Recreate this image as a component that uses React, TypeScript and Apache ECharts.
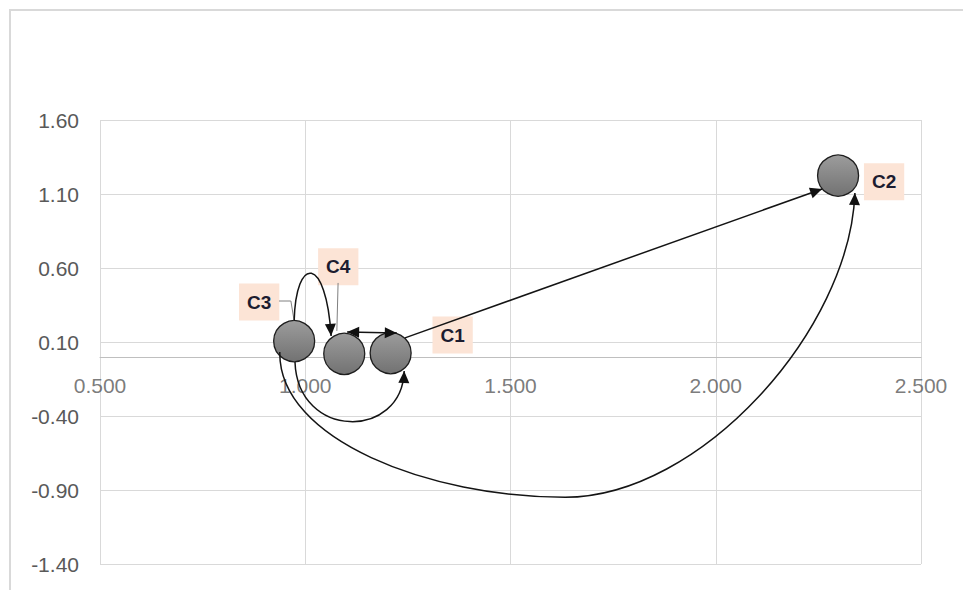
import React, { useEffect, useRef } from "react";
import * as echarts from "echarts";

// ---- data ----
const NODE_NAMES = ["C1", "C2", "C3", "C4"];
const NODE_X = [1.208, 2.298, 0.973, 1.095];
const NODE_Y = [0.025, 1.224, 0.106, 0.02];

const X_MIN = 0.5;
const X_MAX = 2.5;
const X_STEP = 0.5;
const X_TICKS = [0.5, 1.0, 1.5, 2.0, 2.5];
const Y_TICKS = [-1.4, -0.9, -0.4, 0.1, 0.6, 1.1, 1.6];

// arrows (data coordinates): straight = [start, end]; curved = start + cubic triples
const ARROW_C1_C2 = [[1.243, 0.128], [2.259, 1.134]];
const ARROW_C4_C1 = [[1.102, 0.168], [1.223, 0.161]];
const ARROW_C3_C4 = [[0.973, 0.242], [0.977, 0.688], [1.051, 0.688], [1.063, 0.141]];
const ARROW_C3_C1 = [[0.975, -0.035], [0.982, -0.562], [1.236, -0.562], [1.241, -0.096]];
const ARROW_C3_C2 = [
  [0.938, 0.032],
  [0.934, -0.562], [1.304, -0.949], [1.633, -0.949],
  [1.962, -0.949], [2.327, 0.181], [2.339, 1.107],
];
const LEADER_C3 = [[0.936, 0.377], [0.965, 0.377], [0.973, 0.242]];
const LEADER_C4 = [[1.08, 0.499], [1.077, 0.175]];

type Shape = { pts: number[][]; kind: "line" | "curve" | "leader"; heads: number };
const SHAPES: Shape[] = [
  { pts: LEADER_C3, kind: "leader", heads: 0 },
  { pts: LEADER_C4, kind: "leader", heads: 0 },
  { pts: ARROW_C1_C2, kind: "line", heads: 1 },
  { pts: ARROW_C4_C1, kind: "line", heads: 2 },
  { pts: ARROW_C3_C4, kind: "curve", heads: 1 },
  { pts: ARROW_C3_C1, kind: "curve", heads: 1 },
  { pts: ARROW_C3_C2, kind: "curve", heads: 1 },
];

// label offsets (styling)
const LABEL_OFFSETS: Record<string, number[]> = {
  C1: [62, -18],
  C2: [46, 6],
  C3: [-35, -39],
  C4: [-6, -87],
};

function head(tip: number[], from: number[], L = 12, W = 11) {
  const dx = tip[0] - from[0];
  const dy = tip[1] - from[1];
  const len = Math.hypot(dx, dy) || 1;
  const ux = dx / len, uy = dy / len;
  const nx = -uy, ny = ux;
  const bx = tip[0] - ux * L, by = tip[1] - uy * L;
  return {
    type: "polygon",
    shape: { points: [tip, [bx + nx * W / 2, by + ny * W / 2], [bx - nx * W / 2, by - ny * W / 2]] },
    style: { fill: "#111" },
  };
}

export default function App() {
  const ref = useRef<HTMLDivElement>(null);
  useEffect(() => {
    if (!ref.current) return;
    const chart = echarts.init(ref.current, null, { renderer: "svg" });
    const font = "'Liberation Sans', Arial, sans-serif";
    const option: any = {
      animation: false,
      backgroundColor: "#ffffff",
      grid: { left: 100, top: 120, width: 821, height: 444, outerBoundsMode: "none", containLabel: false },
      graphic: [
        {
          type: "rect",
          shape: { x: 10, y: 10, width: 1000, height: 1000 },
          style: { fill: "none", stroke: "#d9d9d9", lineWidth: 2 },
          silent: true,
        },
      ],
      xAxis: {
        type: "value",
        min: X_MIN,
        max: X_MAX,
        interval: X_STEP,
        axisLine: { show: true, onZero: true, lineStyle: { color: "#bfbfbf", width: 1 } },
        axisTick: { show: false },
        axisLabel: { show: false },
        splitLine: { show: true, lineStyle: { color: "#d9d9d9", width: 1 } },
      },
      yAxis: {
        type: "value",
        min: Y_TICKS[0],
        max: Y_TICKS[Y_TICKS.length - 1],
        axisLine: { show: false },
        axisTick: { show: false, customValues: Y_TICKS },
        axisLabel: {
          customValues: Y_TICKS,
          margin: 21,
          fontSize: 21,
          fontFamily: font,
          color: "#595959",
          formatter: (v: number) => v.toFixed(2),
        },
        splitLine: { show: true, lineStyle: { color: "#d9d9d9", width: 1 } },
      },
      series: [
        {
          // x tick labels sitting on the horizontal axis (y = 0)
          type: "scatter",
          z: 1,
          symbolSize: 0,
          silent: true,
          label: {
            show: true,
            position: "bottom",
            distance: 18,
            fontSize: 21,
            fontFamily: font,
            color: "#595959",
            formatter: (p: any) => p.value[0].toFixed(3),
          },
          emphasis: { disabled: true },
          data: X_TICKS.map((x) => [x, 0]),
        },
        {
          type: "scatter",
          z: 2,
          symbol: "circle",
          symbolSize: 41,
          itemStyle: {
            color: new echarts.graphic.LinearGradient(0, 0, 0, 1, [
              { offset: 0, color: "#9c9c9c" },
              { offset: 1, color: "#727272" },
            ]),
            borderColor: "#1e1e1e",
            borderWidth: 1.3,
            opacity: 1,
          },
          label: {
            show: true,
            position: "inside",
            formatter: "{b}",
            fontFamily: font,
            fontWeight: "bold",
            fontSize: 19,
            lineHeight: 19,
            color: "#1c1c30",
            backgroundColor: "#fce4d6",
            padding: [9, 8, 9, 8],
          },
          emphasis: { disabled: true },
          data: NODE_NAMES.map((n, i) => ({
            name: n,
            value: [NODE_X[i], NODE_Y[i]],
            label: { offset: LABEL_OFFSETS[n] },
          })),
        },
        {
          type: "custom",
          z: 5,
          clip: false,
          silent: true,
          data: SHAPES.map((s) => s.pts[0]),
          renderItem: (params: any, api: any) => {
            const s = SHAPES[params.dataIndex];
            const p = s.pts.map((pt) => api.coord(pt));
            let d = `M${p[0][0]},${p[0][1]}`;
            if (s.kind === "curve") {
              for (let k = 1; k + 2 < p.length; k += 3) {
                d += ` C${p[k][0]},${p[k][1]} ${p[k + 1][0]},${p[k + 1][1]} ${p[k + 2][0]},${p[k + 2][1]}`;
              }
            } else {
              for (let k = 1; k < p.length; k++) d += ` L${p[k][0]},${p[k][1]}`;
            }
            const children: any[] = [
              {
                type: "path",
                shape: { pathData: d },
                style: {
                  fill: "none",
                  stroke: s.kind === "leader" ? "#808080" : "#141414",
                  lineWidth: s.kind === "leader" ? 1 : 1.5,
                },
              },
            ];
            const n = p.length;
            if (s.heads >= 1) children.push(head(p[n - 1], p[n - 2]));
            if (s.heads >= 2) children.push(head(p[0], p[1]));
            return { type: "group", children };
          },
        },
      ],
    };
    chart.setOption(option);
    return () => chart.dispose();
  }, []);
  return (
    <div
      ref={ref}
      style={{ position: "absolute", left: 0, top: 0, width: 963, height: 590 }}
    />
  );
}
